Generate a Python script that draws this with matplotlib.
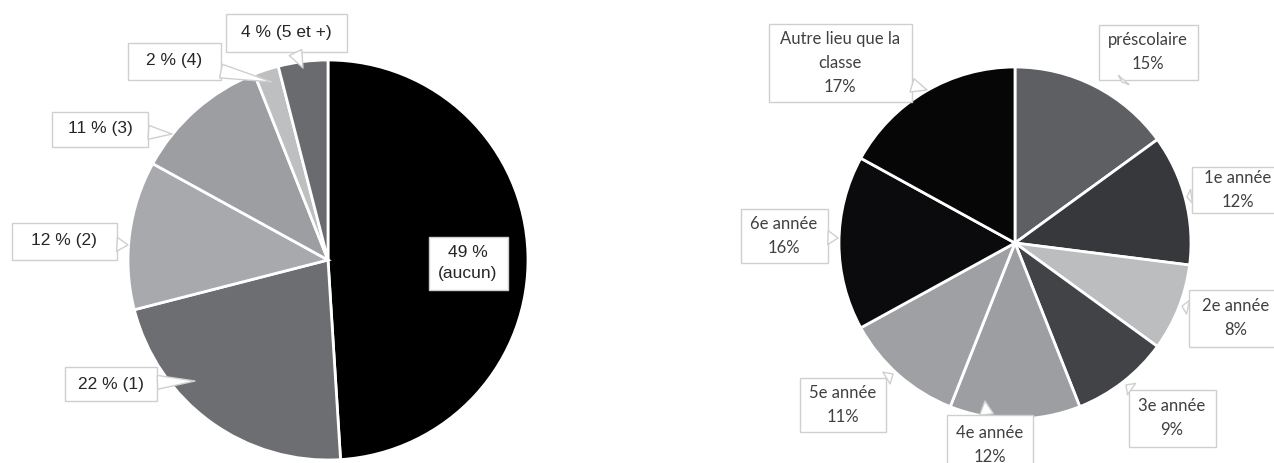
import matplotlib
matplotlib.use("Agg")
import matplotlib.pyplot as plt
from matplotlib.patches import Rectangle

W, H = 1274, 463

# ---- data ----
left_labels = ["49 %\n(aucun)", "22 % (1)", "12 % (2)", "11 % (3)", "2 % (4)", "4 % (5 et +)"]
left_values = [49, 22, 12, 11, 2, 4]
left_colors = ["#000000", "#6d6e72", "#a8a9ac", "#9c9ea1", "#bebfc1", "#6a6b6f"]

right_labels = ["préscolaire\n15%", "1e année\n12%", "2e année\n8%", "3e année\n9%",
                "4e année\n12%", "5e année\n11%", "6e année\n16%", "Autre lieu que la\nclasse\n17%"]
right_values = [15, 12, 8, 9, 12, 11, 16, 17]
right_colors = ["#5e5f63", "#36383b", "#bcbdbf", "#414346", "#9c9ea1", "#9ea0a3", "#0b0b0d", "#060607"]

# ---- layout (pixel coordinates, y from top) ----
left_center, left_r = (328, 260), 200
right_center, right_r = (1015, 243), 176

# label box: (cx, cy, w, h), pointer tip (x, y) or None
left_boxes = [(468, 263, 79, 53), (111, 384, 92, 34), (64, 241, 105, 37),
              (100, 129, 96, 35), (174, 61, 93, 37), (286, 33, 121, 38)]
left_tips = [None, (195, 381), (128, 245), (172, 134), (272, 82), (303, 68)]

right_boxes = [(1148, 52, 99, 55), (1238, 190, 92, 46), (1236, 318, 95, 57),
               (1172, 418, 87, 57), (990, 445, 86, 60), (843, 405, 86, 54),
               (784, 236, 87, 54), (840, 63, 143, 78)]
right_tips = [(1122, 82), (1187, 197), (1182, 306), (1126, 385),
              (985, 401), (893, 374), (838, 238), (927, 90)]

fig = plt.figure(figsize=(W / 100, H / 100), dpi=100)
ax = fig.add_axes([0, 0, 1, 1])


def Y(y):
    return H - y


def draw_pie(values, colors, center, r):
    ax.pie(values, colors=colors, center=(center[0], Y(center[1])), radius=r,
           startangle=90, counterclock=False, frame=True,
           wedgeprops=dict(edgecolor="white", linewidth=2))


def draw_labels(labels, boxes, tips, font, size, color, edge, ls):
    for lab, (cx, cy, w, h), tip in zip(labels, boxes, tips):
        rect = Rectangle((cx - w / 2, Y(cy) - h / 2), w, h, facecolor="white",
                         edgecolor=edge, linewidth=1.0, zorder=5)
        ax.add_patch(rect)
        if tip is not None:
            ax.annotate("", xy=(tip[0], Y(tip[1])), xytext=(cx, Y(cy)),
                        arrowprops=dict(arrowstyle="wedge,tail_width=1.0,shrink_factor=0.5",
                                        facecolor="white", edgecolor=edge, linewidth=1.0,
                                        patchA=rect, shrinkA=0, shrinkB=0),
                        zorder=6)
        ax.text(cx, Y(cy), lab, ha="center", va="center", fontsize=size,
                family=font, color=color, zorder=7, linespacing=ls)


draw_pie(left_values, left_colors, left_center, left_r)
draw_pie(right_values, right_colors, right_center, right_r)
ax.set_xlim(0, W)
ax.set_ylim(0, H)
ax.set_aspect("equal")
ax.axis("off")

draw_labels(left_labels, left_boxes, left_tips, ["Liberation Sans", "DejaVu Sans"], 12.5,
            "#262626", "#cfcfcf", 1.5)
draw_labels(right_labels, right_boxes, right_tips, ["Lato", "DejaVu Sans"], 12,
            "#404040", "#cfcfcf", 1.65)

fig.savefig("out.png", dpi=100, facecolor="white")
